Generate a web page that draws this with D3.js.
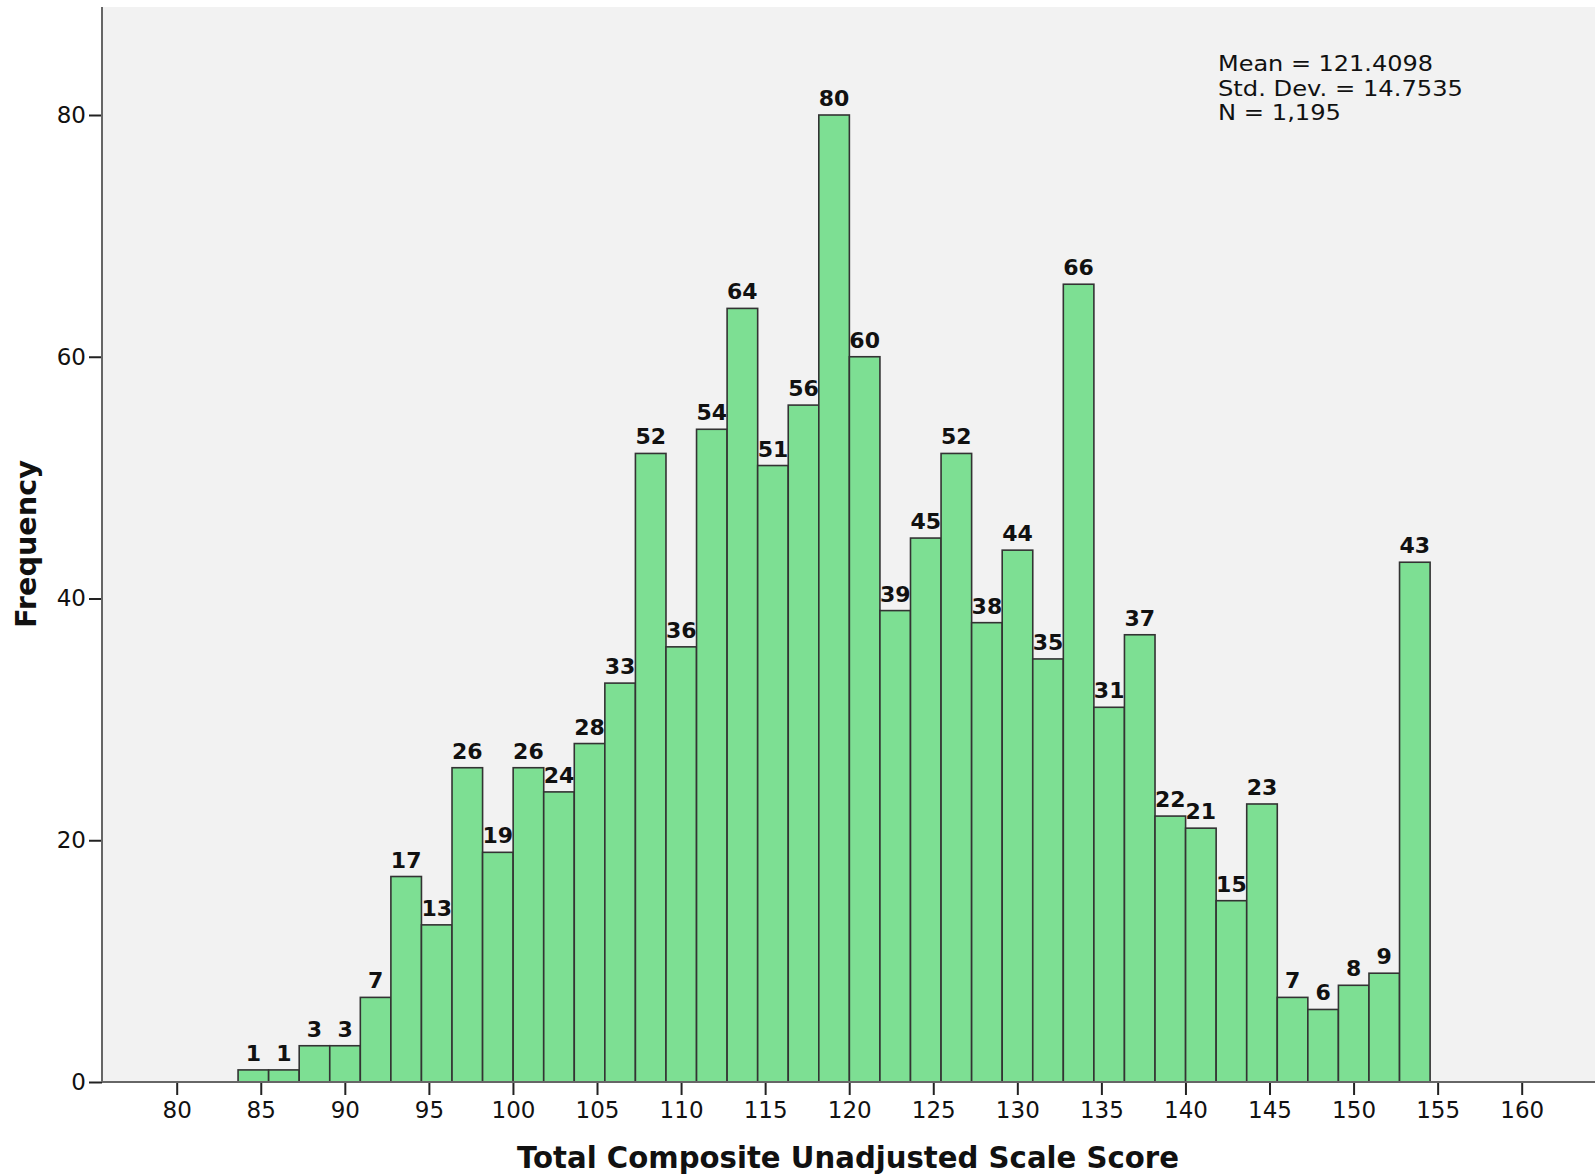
<!DOCTYPE html>
<html>
<head>
<meta charset="utf-8">
<script src="https://cdn.jsdelivr.net/npm/d3@7"></script>
<style>
  html, body { margin: 0; padding: 0; background: #ffffff; }
  svg { display: block; }
</style>
</head>
<body>
<svg id="chart" width="1595" height="1176"></svg>
<script>
// Histogram of the total composite unadjusted scale score
const binStart = 83.65;
const binWidth = 1.818;
const frequencies = [1, 1, 3, 3, 7, 17, 13, 26, 19, 26, 24, 28, 33, 52, 36, 54, 64, 51, 56, 80,
                     60, 39, 45, 52, 38, 44, 35, 66, 31, 37, 22, 21, 15, 23, 7, 6, 8, 9, 43];
const xTicks = [80, 85, 90, 95, 100, 105, 110, 115, 120, 125, 130, 135, 140, 145, 150, 155, 160];
const yTicks = [0, 20, 40, 60, 80];
const statLines = ["Mean = 121.4098", "Std. Dev. = 14.7535", "N = 1,195"];
const statWidths = [215, 245, 123];

const svg = d3.select("#chart");
const plot = { left: 102, top: 7, right: 1595, bottom: 1082 };

const x = d3.scaleLinear().domain([80, 160]).range([176.7, 1521.7]);
const y = d3.scaleLinear().domain([0, 80]).range([plot.bottom, 115]);

const bins = frequencies.map((f, i) => ({
  x0: binStart + i * binWidth,
  x1: binStart + (i + 1) * binWidth,
  count: f
}));

// plot background
svg.append("rect")
  .attr("x", plot.left).attr("y", plot.top)
  .attr("width", plot.right - plot.left).attr("height", plot.bottom - plot.top)
  .attr("fill", "#f2f2f2");

// bars
svg.append("g").selectAll("rect").data(bins).join("rect")
  .attr("x", d => x(d.x0))
  .attr("y", d => y(d.count))
  .attr("width", d => x(d.x1) - x(d.x0))
  .attr("height", d => y(0) - y(d.count))
  .attr("fill", "#7ddf93")
  .attr("stroke", "#333333")
  .attr("stroke-width", 1.6);

// value labels
svg.append("g").selectAll("text").data(bins).join("text")
  .attr("x", d => (x(d.x0) + x(d.x1)) / 2)
  .attr("y", d => y(d.count) - 9)
  .attr("text-anchor", "middle")
  .attr("font-family", "DejaVu Sans, sans-serif")
  .attr("font-weight", "bold")
  .attr("font-size", 22)
  .attr("fill", "#111")
  .text(d => d.count);

// axes
const xAxis = d3.axisBottom(x).tickValues(xTicks).tickSize(13).tickSizeOuter(0).tickPadding(7);
const gx = svg.append("g").attr("transform", `translate(0,${plot.bottom})`).call(xAxis);
gx.select(".domain").remove();
gx.append("line").attr("x1", plot.left).attr("x2", plot.right)
  .attr("y1", 0).attr("y2", 0).attr("stroke", "#666").attr("stroke-width", 2);
gx.selectAll(".tick line").attr("stroke", "#222").attr("stroke-width", 2);
gx.selectAll(".tick text")
  .attr("font-family", "DejaVu Sans, sans-serif").attr("font-size", 23).attr("fill", "#111");

const yAxis = d3.axisLeft(y).tickValues(yTicks).tickSize(13).tickSizeOuter(0).tickPadding(3);
const gy = svg.append("g").attr("transform", `translate(${plot.left},0)`).call(yAxis);
gy.select(".domain").remove();
gy.append("line").attr("x1", 0).attr("x2", 0)
  .attr("y1", plot.top).attr("y2", plot.bottom).attr("stroke", "#666").attr("stroke-width", 2);
gy.selectAll(".tick line").attr("stroke", "#222").attr("stroke-width", 2);
gy.selectAll(".tick text")
  .attr("font-family", "DejaVu Sans, sans-serif").attr("font-size", 23).attr("fill", "#111");

// axis titles
svg.append("text")
  .attr("x", 848).attr("y", 1168)
  .attr("text-anchor", "middle")
  .attr("font-family", "DejaVu Sans, sans-serif")
  .attr("font-weight", "bold").attr("font-size", 30)
  .attr("textLength", 662).attr("lengthAdjust", "spacingAndGlyphs")
  .attr("fill", "#111")
  .text("Total Composite Unadjusted Scale Score");

svg.append("text")
  .attr("transform", "translate(36,544) rotate(-90)")
  .attr("text-anchor", "middle")
  .attr("font-family", "DejaVu Sans, sans-serif")
  .attr("font-weight", "bold").attr("font-size", 28)
  .attr("textLength", 168).attr("lengthAdjust", "spacingAndGlyphs")
  .attr("fill", "#111")
  .text("Frequency");

// summary statistics
svg.append("g").selectAll("text").data(statLines).join("text")
  .attr("x", 1218)
  .attr("y", (d, i) => 71 + i * 24.5)
  .attr("font-family", "DejaVu Sans, sans-serif")
  .attr("font-size", 21)
  .attr("textLength", (d, i) => statWidths[i])
  .attr("lengthAdjust", "spacingAndGlyphs")
  .attr("fill", "#111")
  .text(d => d);
</script>
</body>
</html>
